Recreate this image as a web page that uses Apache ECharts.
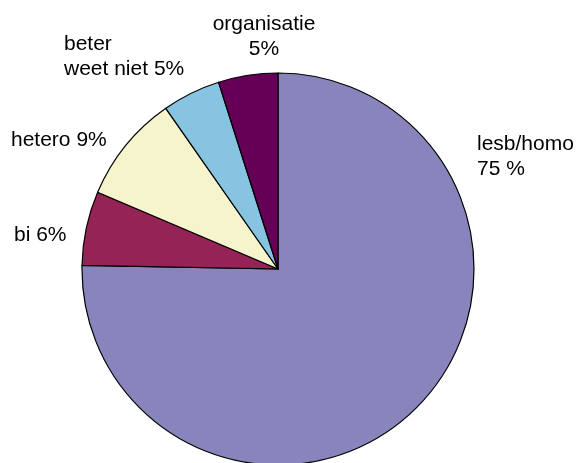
<!DOCTYPE html>
<html>
<head>
<meta charset="utf-8">
<script src="https://cdn.jsdelivr.net/npm/echarts@6/dist/echarts.min.js"></script>
<style>
html, body { margin: 0; padding: 0; background: #fff; }
#main { width: 579px; height: 463px; }
</style>
</head>
<body>
<div id="main"></div>
<script>
// categorieen, kloksgewijs vanaf 12 uur
var names = ['lesb/homo', 'bi', 'hetero', 'beter weet niet', 'organisatie'];
var values = [75.3, 6.1, 8.9, 4.8, 4.9];
// labelteksten zoals in de figuur
var labelTexts = ['lesb/homo\n75 %', 'bi 6%', 'hetero 9%', 'beter\nweet niet 5%', 'organisatie\n5%'];
var colors = ['#8884bc', '#952356', '#f6f4cc', '#86c4e2', '#660057'];

var chart = echarts.init(document.getElementById('main'));

var pieData = [];
for (var i = 0; i < names.length; i++) {
	pieData.push({ value: values[i], name: names[i], itemStyle: { color: colors[i] } });
}

// label posities
var labelPos = [[477, 132], [14, 223], [11, 128], [64, 32], [264, 12]];
var labelAlign = ['left', 'left', 'left', 'left', 'center'];
var graphics = [];
for (var j = 0; j < labelTexts.length; j++) {
	graphics.push({
		type: 'text',
		x: labelPos[j][0],
		y: labelPos[j][1],
		style: {
			text: labelTexts[j],
			font: '21px "Liberation Sans", Arial, sans-serif',
			fill: '#000',
			lineHeight: 25,
			align: labelAlign[j],
			verticalAlign: 'top'
		}
	});
}

var option = {
	animation: false,
	backgroundColor: '#fff',
	graphic: graphics,
	series: [
		{
			type: 'pie',
			center: [278, 269],
			radius: 196,
			startAngle: 90,
			clockwise: true,
			label: { show: false },
			labelLine: { show: false },
			itemStyle: { borderColor: '#000', borderWidth: 1.2 },
			emphasis: { disabled: true },
			data: pieData
		}
	]
};
chart.setOption(option);
</script>
</body>
</html>
